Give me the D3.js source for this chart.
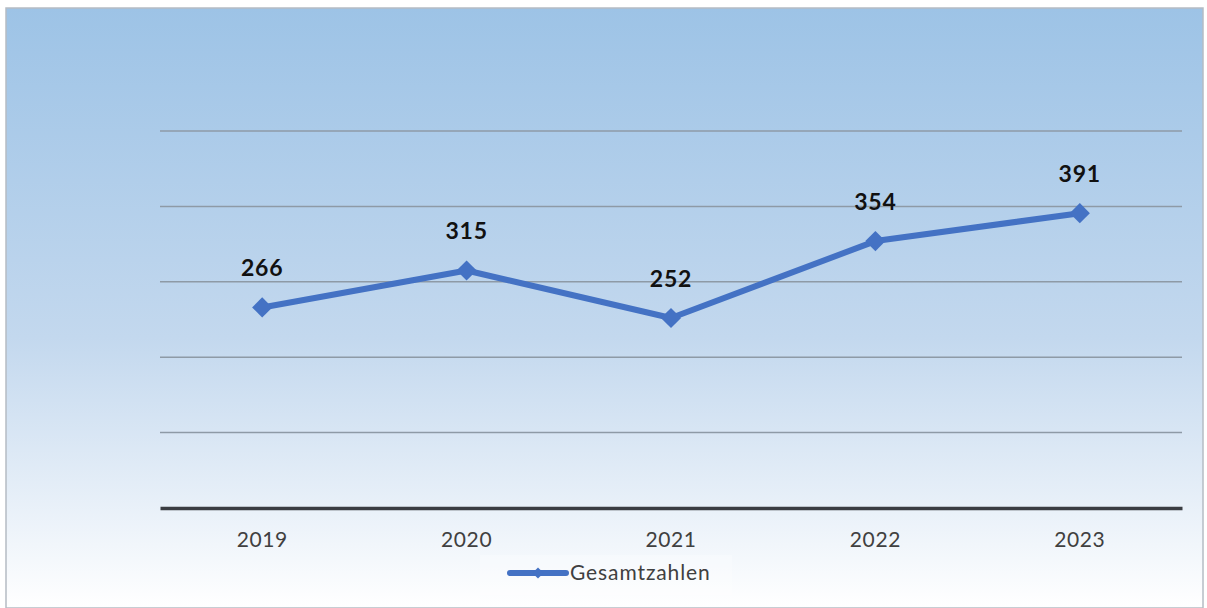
<!DOCTYPE html>
<html lang="de">
<head>
<meta charset="UTF-8" />
<title>Gesamtzahlen</title>
<script src="https://d3js.org/d3.v7.min.js"></script>
<style>
  html, body { margin: 0; padding: 0; background: #fff; }
  svg { display: block; }
  text { font-family: Lato, "Open Sans", sans-serif; }
</style>
</head>
<body>
<svg id="chart" width="1207" height="608"></svg>
<script>
  // data
  const years = ["2019", "2020", "2021", "2022", "2023"];
  const totals = [266, 315, 252, 354, 391];
  const gridTicks = [0, 100, 200, 300, 400, 500];
  const seriesName = "Gesamtzahlen";

  const W = 1207, H = 608;
  const margin = { top: 131, right: 25, bottom: 100, left: 160 };
  const width = 1182 - margin.left, height = 508 - margin.top;

  const svg = d3.select("#chart");

  // background gradient
  const defs = svg.append("defs");
  const grad = defs.append("linearGradient")
    .attr("id", "bg").attr("x1", 0).attr("y1", 0).attr("x2", 0).attr("y2", 1);
  grad.append("stop").attr("offset", "0%").attr("stop-color", "#9dc3e6");
  grad.append("stop").attr("offset", "55%").attr("stop-color", "#c3d8ee");
  grad.append("stop").attr("offset", "100%").attr("stop-color", "#ffffff");

  svg.append("rect").attr("x", 0).attr("y", 0).attr("width", W).attr("height", H).attr("fill", "#fff");
  svg.append("rect")
    .attr("x", 6).attr("y", 8).attr("width", 1197).attr("height", 600)
    .attr("fill", "url(#bg)")
    .attr("stroke", "#b5bcc4").attr("stroke-width", 1.5);

  const g = svg.append("g").attr("transform", `translate(${margin.left},${margin.top})`);

  const x = d3.scaleBand().domain(years).range([0, width]);
  const y = d3.scaleLinear().domain([0, 500]).range([height, 0]);

  // gridlines
  g.selectAll(".grid")
    .data(gridTicks.filter(d => d > 0))
    .enter().append("line")
    .attr("x1", 0).attr("x2", width)
    .attr("y1", d => y(d)).attr("y2", d => y(d))
    .attr("stroke", "#8e9aa6").attr("stroke-width", 1.5);

  // x axis
  const xAxis = g.append("g")
    .attr("transform", `translate(0,${height})`)
    .call(d3.axisBottom(x).tickSize(0).tickPadding(24));
  xAxis.select(".domain").attr("stroke", "#3a3d42").attr("stroke-width", 3.5);
  xAxis.selectAll("text")
    .attr("font-size", 21).attr("fill", "#404040")
    .attr("letter-spacing", 0.6)
    .style("font-family", "Lato, 'Open Sans', sans-serif");

  const cx = d => x(d) + x.bandwidth() / 2;

  const line = d3.line()
    .x((d, i) => cx(years[i]))
    .y(d => y(d));

  g.append("path")
    .datum(totals)
    .attr("fill", "none")
    .attr("stroke", "#4472c4")
    .attr("stroke-width", 6)
    .attr("stroke-linejoin", "round")
    .attr("d", line);

  const diamond = d3.symbol().type(d3.symbolDiamond2).size(260);
  g.selectAll(".pt")
    .data(totals)
    .enter().append("path")
    .attr("d", diamond)
    .attr("transform", (d, i) => `translate(${cx(years[i])},${y(d)})`)
    .attr("fill", "#4472c4");

  g.selectAll(".lbl")
    .data(totals)
    .enter().append("text")
    .attr("x", (d, i) => cx(years[i]))
    .attr("y", d => y(d) - 31)
    .attr("text-anchor", "middle")
    .attr("font-size", 23)
    .attr("font-weight", "bold")
    .attr("letter-spacing", 0.8)
    .attr("fill", "#111")
    .text(d => d);

  // legend
  const lg = svg.append("g").attr("transform", "translate(510,573)");
  lg.append("rect").attr("x", -30).attr("y", -18).attr("width", 252).attr("height", 40)
    .attr("fill", "#ffffff").attr("opacity", 0.25);
  lg.append("line").attr("x1", 0).attr("x2", 56).attr("y1", 0).attr("y2", 0)
    .attr("stroke", "#4472c4").attr("stroke-width", 6).attr("stroke-linecap", "round");
  lg.append("path").attr("d", d3.symbol().type(d3.symbolDiamond2).size(80))
    .attr("transform", "translate(28,0)").attr("fill", "#4472c4");
  lg.append("text").attr("x", 60).attr("y", 7)
    .attr("font-size", 21).attr("fill", "#404040")
    .attr("letter-spacing", 0.9)
    .text(seriesName);
</script>
</body>
</html>
